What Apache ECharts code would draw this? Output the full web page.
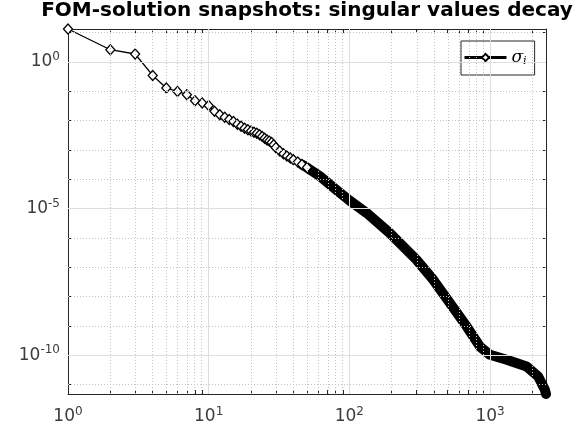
<!DOCTYPE html>
<html><head><meta charset="utf-8">
<script src="https://cdn.jsdelivr.net/npm/echarts@6/dist/echarts.min.js"></script>
<style>html,body{margin:0;padding:0;background:#fff}#c{width:582px;height:432px}</style>
</head><body><div id="c"></div>
<script>
const titleText = 'FOM-solution snapshots: singular values decay';
const seriesName = 'σ_i';
// individually visible singular values (index i, sigma_i)
const headIndex = [1,2,3,4,5,6,7,8,9,10,11,12,13,14,15,16,17,18,19,20,21,22,23,24,25,26,27,28,29,30,32,34,36,38,40,43,46,50];
const headSigma = [13.4,2.63,1.88,0.349,0.130,0.0993,0.0766,0.0478,0.0398,0.0330,0.021,0.016,0.013,0.011,0.0093,0.0075,0.0064,0.0055,0.0049,0.0044,0.0040,0.0037,0.0033,0.0029,0.0025,0.0022,0.0020,0.0018,0.0015,0.0012,0.00092,0.00074,0.00062,0.00053,0.00046,0.00039,0.00032,0.00025];
// dense tail where the markers merge into a solid band
const tailIndex = [46,50,62,80,100,133,194,300,395,519,682,848,1000,1313,1820,2200,2455,2500];
const tailSigma = [0.00032,0.00025,1.25e-4,4.5e-5,1.9e-5,7.0e-6,1.45e-6,1.8e-7,3.7e-8,5.9e-9,9.5e-10,1.96e-10,1.02e-10,6.9e-11,4.1e-11,1.86e-11,6.6e-12,4.7e-12];
// axis extents (tight) and ticks, as decade exponents
const xRange = [1, 2500];
const yRange = [4.7e-12, 13.4];
const xLabelExp = [0,1,2,3];
const yLabelExp = [-10,-5,0];
const yDecadeExp = [-11,-10,-9,-8,-7,-6,-5,-4,-3,-2,-1,0,1];
const minorFactors = [2,3,4,5,6,7,8,9];

const L = Math.log10;
const xMin = L(xRange[0]), xMax = L(xRange[1]);
const yMin = L(yRange[0]), yMax = L(yRange[1]);
const xMinor = [];
xLabelExp.forEach(d => minorFactors.forEach(f => { const v = f*Math.pow(10,d); if (v < xRange[1]) xMinor.push(L(v)); }));
const yMinor = yDecadeExp.filter(e => yLabelExp.indexOf(e) < 0);
const xAllTicks = xLabelExp.concat(xMinor);

const labCol = '#3c3c3c';
const rich = {
  b: {fontSize: 17, color: labCol, fontFamily: 'DejaVu Sans'},
  e: {fontSize: 12, color: labCol, fontFamily: 'DejaVu Sans', padding: [0,0,10,0]}
};
const fmt = v => '{b|10}{e|' + Math.round(v) + '}';
const axLine = {show: true, onZero: false, lineStyle: {color: '#262626', width: 1}};
const tick = vals => ({show: true, inside: true, length: 4, customValues: vals, lineStyle: {color: '#262626'}});

const chart = echarts.init(document.getElementById('c'), null, {renderer: 'canvas'});
chart.setOption({
  animation: false,
  backgroundColor: '#fff',
  title: {
    text: titleText, left: 307, top: 1, textAlign: 'center', padding: 0,
    textStyle: {fontFamily: 'DejaVu Sans', fontWeight: 'bold', fontSize: 20, color: '#000'}
  },
  grid: {left: 68, right: 36, top: 29, bottom: 38, show: false},
  legend: {
    data: [seriesName], left: 461, top: 41,
    backgroundColor: '#fff', borderColor: '#262626', borderWidth: 1, borderRadius: 0,
    padding: [8, 8, 8, 2], itemWidth: 42, itemHeight: 9, itemGap: 4,
    lineStyle: {width: 3},
    formatter: () => '{s|σ}{u|i}',
    textStyle: {rich: {
      s: {fontSize: 17, fontStyle: 'italic', fontFamily: 'DejaVu Serif', color: '#000'},
      u: {fontSize: 11, fontStyle: 'italic', fontFamily: 'DejaVu Serif', color: '#000', padding: [8,0,0,0]}
    }}
  },
  xAxis: [
    {type: 'value', min: xMin, max: xMax, position: 'bottom',
     axisLine: axLine, splitLine: {show: false}, axisTick: tick(xAllTicks),
     axisLabel: {customValues: xLabelExp, formatter: fmt, rich: rich, margin: 12}},
    {type: 'value', min: xMin, max: xMax, position: 'top',
     axisLine: axLine, splitLine: {show: false}, axisTick: tick(xAllTicks),
     axisLabel: {show: false}}
  ],
  yAxis: [
    {type: 'value', min: yMin, max: yMax, position: 'left',
     axisLine: axLine, splitLine: {show: false}, axisTick: tick(yDecadeExp),
     axisLabel: {customValues: yLabelExp, formatter: fmt, rich: rich, margin: 8}},
    {type: 'value', min: yMin, max: yMax, position: 'right',
     axisLine: axLine, splitLine: {show: false}, axisTick: tick(yDecadeExp),
     axisLabel: {show: false}}
  ],
  series: [
    {name: 'grid', type: 'line', data: [], z: 0, silent: true,
     markLine: {silent: true, symbol: 'none', label: {show: false}, animation: false,
       data: xMinor.map(v => ({xAxis: v, lineStyle: {color: '#c4c4c4', type: [1,2], width: 1}}))
         .concat(yMinor.map(v => ({yAxis: v, lineStyle: {color: '#c4c4c4', type: [1,2], width: 1}})))
         .concat(xLabelExp.slice(1).map(v => ({xAxis: v, lineStyle: {color: '#dedede', type: 'solid', width: 1}})))
         .concat(yLabelExp.map(v => ({yAxis: v, lineStyle: {color: '#dedede', type: 'solid', width: 1}})))
     }},
    {name: 'tail', type: 'line', clip: false, z: 3, symbol: 'none',
     lineStyle: {color: '#000', width: 10, cap: 'round', join: 'round'},
     data: tailIndex.map((x, k) => [L(x), L(tailSigma[k])])},
    {name: seriesName, type: 'line', clip: false, z: 4,
     symbol: 'diamond', symbolSize: [9, 10],
     lineStyle: {color: '#000', width: 1.3},
     itemStyle: {color: '#fff', borderColor: '#000', borderWidth: 1.3},
     data: headIndex.map((x, k) => [L(x), L(headSigma[k])])}
  ]
});
</script></body></html>
